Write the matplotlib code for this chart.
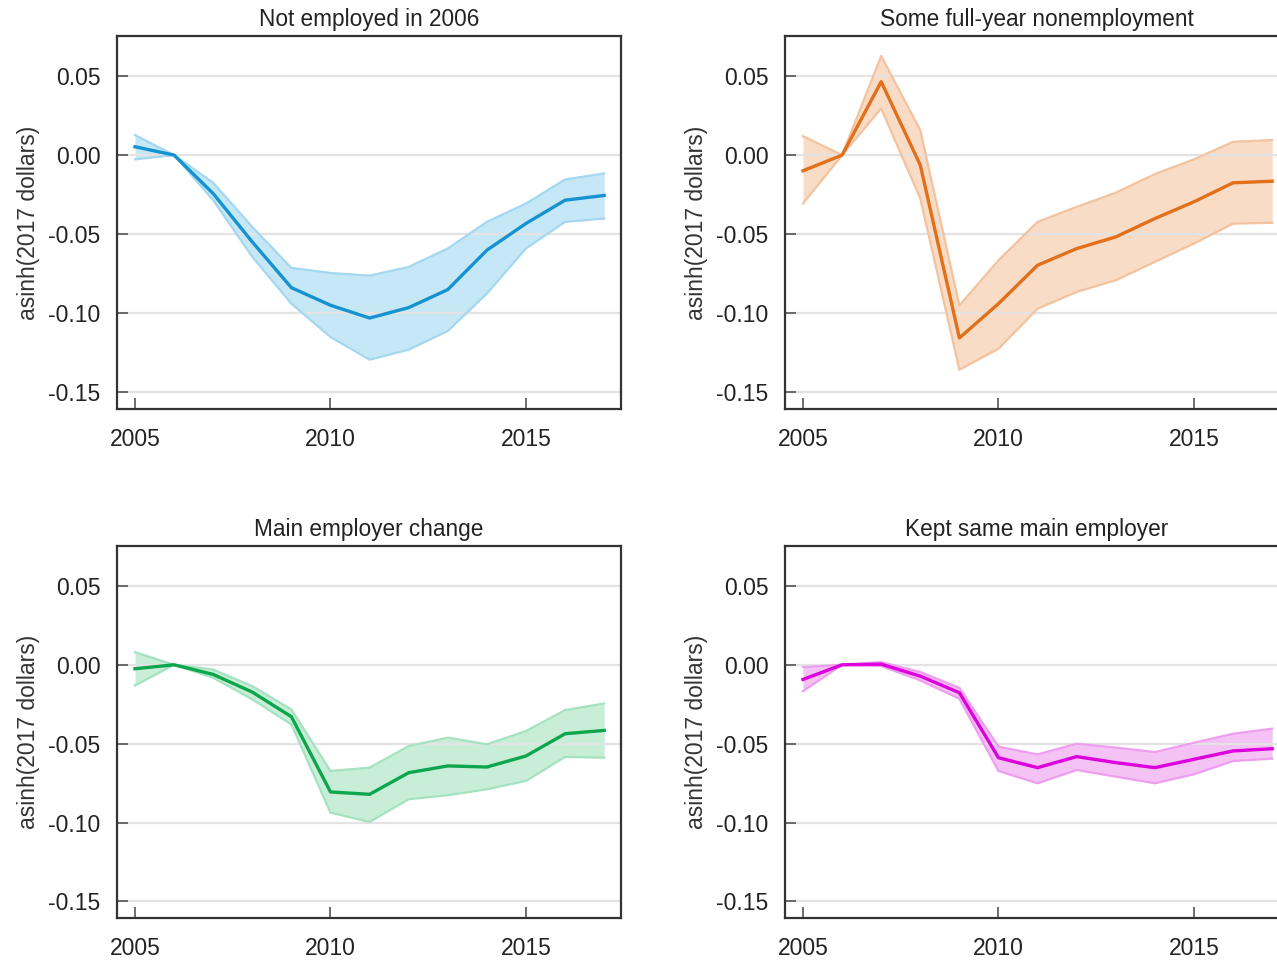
import numpy as np
import matplotlib
matplotlib.use("Agg")
import matplotlib.pyplot as plt

plt.rcParams['font.family'] = ['Liberation Sans', 'DejaVu Sans']

years = list(range(2005, 2018))

# Not employed in 2006
ne_est = [0.0053, 0.0, -0.0243, -0.0549, -0.0838, -0.0949, -0.1030, -0.0964,
          -0.0850, -0.0601, -0.0432, -0.0285, -0.0255]
ne_hi = [0.0127, 0.0, -0.0175, -0.0454, -0.0713, -0.0745, -0.0762, -0.0707,
         -0.0590, -0.0422, -0.0306, -0.0154, -0.0116]
ne_lo = [-0.0027, 0.0, -0.0285, -0.0643, -0.0939, -0.1150, -0.1293, -0.1230,
         -0.1112, -0.0875, -0.0590, -0.0422, -0.0401]

# Some full-year nonemployment
fy_est = [-0.0099, 0.0, 0.0464, -0.0063, -0.1156, -0.0939, -0.0696, -0.0591,
          -0.0517, -0.0401, -0.0295, -0.0175, -0.0165]
fy_hi = [0.0120, 0.0, 0.0627, 0.0158, -0.0950, -0.0665, -0.0422, -0.0327,
         -0.0238, -0.0120, -0.0027, 0.0084, 0.0095]
fy_lo = [-0.0306, 0.0, 0.0295, -0.0274, -0.1357, -0.1224, -0.0971, -0.0865,
         -0.0791, -0.0675, -0.0559, -0.0433, -0.0428]

# Main employer change
ch_est = [-0.0025, 0.0, -0.0061, -0.0173, -0.0329, -0.0806, -0.0821, -0.0684,
          -0.0641, -0.0648, -0.0578, -0.0437, -0.0416]
ch_hi = [0.0080, 0.0, -0.0030, -0.0135, -0.0283, -0.0673, -0.0652, -0.0515,
         -0.0462, -0.0504, -0.0420, -0.0287, -0.0245]
ch_lo = [-0.0131, 0.0, -0.0082, -0.0219, -0.0378, -0.0937, -0.0996, -0.0852,
         -0.0827, -0.0789, -0.0736, -0.0584, -0.0589]

# Kept same main employer
ks_est = [-0.0093, 0.0, 0.0004, -0.0072, -0.0177, -0.0589, -0.0652, -0.0582,
          -0.0620, -0.0652, -0.0599, -0.0546, -0.0532]
ks_hi = [-0.0015, 0.0, 0.0017, -0.0046, -0.0146, -0.0519, -0.0568, -0.0500,
         -0.0525, -0.0553, -0.0494, -0.0437, -0.0405]
ks_lo = [-0.0167, 0.0, -0.0008, -0.0099, -0.0215, -0.0673, -0.0751, -0.0667,
         -0.0709, -0.0751, -0.0694, -0.0610, -0.0595]

titles = ["Not employed in 2006", "Some full-year nonemployment",
          "Main employer change", "Kept same main employer"]
line_colors = ["#1592d0", "#e2701a", "#0ea64c", "#dc00dc"]
fill_colors = ["#c6e7f6", "#f9dcc5", "#c8eed8", "#f5c2f5"]
edge_colors = ["#a3d8f0", "#f3c29e", "#a5e2bf", "#ee9eee"]

panels = [(ne_est, ne_hi, ne_lo), (fy_est, fy_hi, fy_lo),
          (ch_est, ch_hi, ch_lo), (ks_est, ks_hi, ks_lo)]

fig = plt.figure(figsize=(12.77, 9.65), dpi=100)

W, H = 1277, 965
boxes = [(117, 36, 504, 373), (785, 36, 504, 373),
         (117, 546, 504, 372), (785, 546, 504, 372)]

for i, (est, hi, lo) in enumerate(panels):
    x0, y0, w, h = boxes[i]
    ax = fig.add_axes([x0 / W, 1 - (y0 + h) / H, w / W, h / H])
    ax.set_xlim(2004.54, 2017.43)
    ax.set_ylim(-0.1605, 0.0753)
    ax.set_yticks([0.05, 0.0, -0.05, -0.10, -0.15])
    ax.set_yticklabels(["0.05", "0.00", "-0.05", "-0.10", "-0.15"])
    ax.set_xticks([2005, 2010, 2015])
    ax.grid(axis='y', color='#e3e3e3', lw=1.6, zorder=0)
    ax.fill_between(years, lo, hi, color=fill_colors[i], lw=0, zorder=1)
    ax.plot(years, hi, color=edge_colors[i], lw=1.6, zorder=2)
    ax.plot(years, lo, color=edge_colors[i], lw=1.6, zorder=2)
    ax.plot(years, est, color=line_colors[i], lw=2.4, zorder=3)
    ax.tick_params(direction='in', length=8, width=1.2, color='#555555',
                   labelsize=16.5, labelcolor='#222222')
    ax.tick_params(axis='y', pad=12)
    ax.tick_params(axis='x', pad=14)
    for s in ax.spines.values():
        s.set_color('#333333')
        s.set_linewidth(1.6)
    ax.set_title(titles[i], fontsize=16.3, color='#222222', pad=7)
    ax.set_ylabel("asinh(2017 dollars)", fontsize=16.5, color='#333333',
                  labelpad=6)

fig.savefig("out.png", dpi=100)
